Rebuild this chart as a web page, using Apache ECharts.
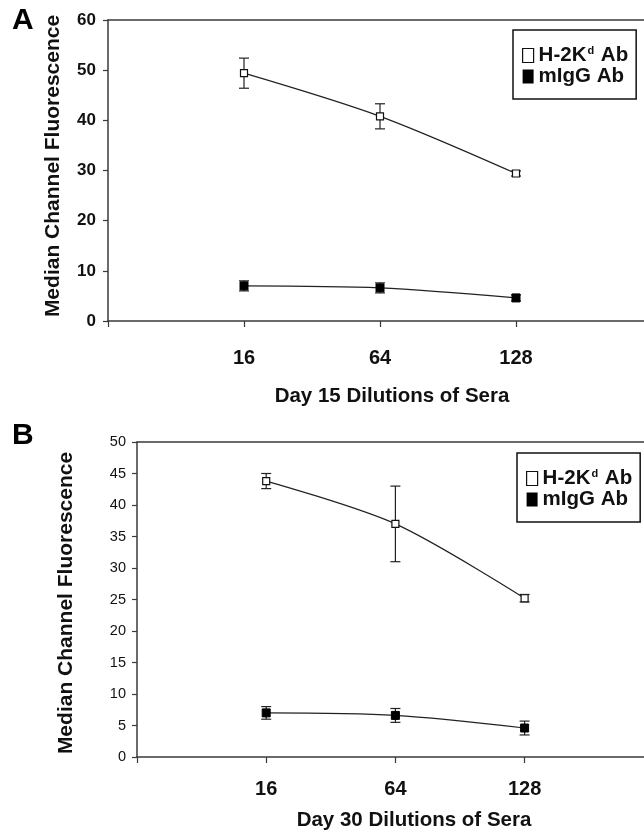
<!DOCTYPE html>
<html>
<head>
<meta charset="utf-8">
<script src="https://cdn.jsdelivr.net/npm/echarts@6/dist/echarts.min.js"></script>
<style>
  html, body { margin: 0; padding: 0; background: #fff; }
  #chart { width: 644px; height: 834px; }
</style>
</head>
<body>
<div id="chart"></div>
<script>
// dilutions on the x axis (both panels)
var dilutions = ['16', '64', '128'];

// panel A, day 15
var dayA_h2kd = [49.4, 40.8, 29.4];
var errA_h2kd = [3.0, 2.5, 0.5];
var dayA_migg = [7.0, 6.6, 4.6];
var errA_migg = [1.0, 1.0, 0.6];

// panel B, day 30
var dayB_h2kd = [43.8, 37.0, 25.2];
var errB_h2kd = [1.2, 6.0, 0.6];
var dayB_migg = [7.0, 6.6, 4.6];
var errB_migg = [1.0, 1.1, 1.1];

// y axis ticks
var yTicksA = { min: 0, max: 60, interval: 10 };
var yTicksB = { min: 0, max: 50, interval: 5 };

var FONT = '"Liberation Sans", Arial, sans-serif';
var AXIS = '#3a3a3a';

// dilution i sits at x = i + 1; the axis runs on past the last one (cut by the picture edge)
var xTickPos = [0].concat(dilutions.map(function (d, i) { return i + 1; }));

function points(vals) {
    return vals.map(function (v, i) { return [i + 1, v]; });
}
function errs(vals, e) {
    return vals.map(function (v, i) { return [i + 1, v - e[i], v + e[i]]; });
}

function errorBars(idx, data) {
    return {
        type: 'custom',
        xAxisIndex: idx * 2,
        yAxisIndex: idx,
        z: 1,
        silent: true,
        data: data,
        encode: { x: 0, y: [1, 2] },
        renderItem: function (params, api) {
            var lo = api.coord([api.value(0), api.value(1)]);
            var hi = api.coord([api.value(0), api.value(2)]);
            var w = 5;
            var st = { stroke: '#222', lineWidth: 1.2 };
            return {
                type: 'group',
                children: [
                    { type: 'line', shape: { x1: lo[0], y1: lo[1], x2: hi[0], y2: hi[1] }, style: st },
                    { type: 'line', shape: { x1: lo[0] - w, y1: lo[1], x2: lo[0] + w, y2: lo[1] }, style: st },
                    { type: 'line', shape: { x1: hi[0] - w, y1: hi[1], x2: hi[0] + w, y2: hi[1] }, style: st }
                ]
            };
        }
    };
}

function lineSeries(idx, name, vals, filled) {
    return {
        name: name,
        type: 'line',
        xAxisIndex: idx * 2,
        yAxisIndex: idx,
        smooth: 0.3,
        symbol: 'rect',
        symbolSize: filled ? 8 : 7,
        z: 3,
        lineStyle: { color: '#222', width: 1.2 },
        itemStyle: filled ? { color: '#000', borderColor: '#000', borderWidth: 1 }
                          : { color: '#fff', borderColor: '#111', borderWidth: 1.2 },
        data: points(vals)
    };
}

function xAxisFor(idx, max, labelSize, margin) {
    return {
        type: 'value',
        gridIndex: idx,
        min: 0,
        max: max,
        interval: 1,
        axisLine: { show: true, onZero: false, lineStyle: { color: AXIS, width: 1.5 } },
        axisTick: { show: true, length: 6, customValues: xTickPos, lineStyle: { color: AXIS, width: 1.2 } },
        axisLabel: {
            color: '#111', fontFamily: FONT, fontWeight: 'bold', fontSize: labelSize, margin: margin,
            customValues: xTickPos,
            formatter: function (v) { return dilutions[v - 1] || ''; }
        },
        splitLine: { show: false }
    };
}

// plain line along the top of the plot
function topAxisFor(idx, max) {
    return {
        type: 'value',
        gridIndex: idx,
        position: 'top',
        min: 0,
        max: max,
        axisLine: { show: true, onZero: false, lineStyle: { color: AXIS, width: 1.5 } },
        axisTick: { show: false },
        axisLabel: { show: false },
        splitLine: { show: false }
    };
}

function yAxisFor(idx, t, labelSize, bold, margin) {
    return {
        type: 'value',
        gridIndex: idx,
        min: t.min,
        max: t.max,
        interval: t.interval,
        axisLine: { show: true, lineStyle: { color: AXIS, width: 1.5 } },
        axisTick: { show: true, length: 5, lineStyle: { color: AXIS, width: 1.2 } },
        axisLabel: { color: '#111', fontFamily: FONT, fontWeight: bold ? 'bold' : 'normal', fontSize: labelSize, margin: margin },
        splitLine: { show: false }
    };
}

function legendFor(left, top) {
    return {
        orient: 'vertical',
        left: left,
        top: top,
        padding: [15, 8, 12, 9],
        itemGap: 0,
        itemWidth: 11,
        itemHeight: 14,
        borderColor: '#111',
        borderWidth: 1.5,
        selectedMode: false,
        data: [
            { name: 'H-2Kd Ab', icon: 'rect', itemStyle: { color: '#fff', borderColor: '#111', borderWidth: 1.2 } },
            { name: 'mIgG Ab', icon: 'rect', itemStyle: { color: '#000', borderWidth: 0 } }
        ],
        formatter: function (name) {
            if (name === 'H-2Kd Ab') return '{a|H-2K}{s|d}{a| Ab}';
            return '{a|' + name + '}';
        },
        textStyle: {
            lineHeight: 18,
            rich: {
                a: { fontFamily: FONT, fontWeight: 'bold', fontSize: 20.5, lineHeight: 18, color: '#111' },
                s: { fontFamily: FONT, fontWeight: 'bold', fontSize: 11, lineHeight: 18, color: '#111', padding: [0, 1, 9, 1] }
            }
        }
    };
}

var chart = echarts.init(document.getElementById('chart'));

var maxA = 536 / 136;
var maxB = 507 / 129.2;

var option = {
    backgroundColor: '#fff',
    animation: false,
    grid: [
        { left: 108, top: 20, right: 0, height: 301 },
        { left: 137, top: 442, right: 0, height: 315 }
    ],
    xAxis: [
        xAxisFor(0, maxA, 20, 27), topAxisFor(0, maxA),
        xAxisFor(1, maxB, 20, 22), topAxisFor(1, maxB)
    ],
    yAxis: [yAxisFor(0, yTicksA, 17, true, 12), yAxisFor(1, yTicksB, 14.5, false, 11)],
    legend: [legendFor(513, 30), legendFor(517, 453)],
    series: [
        errorBars(0, errs(dayA_h2kd, errA_h2kd)),
        errorBars(0, errs(dayA_migg, errA_migg)),
        lineSeries(0, 'H-2Kd Ab', dayA_h2kd, false),
        lineSeries(0, 'mIgG Ab', dayA_migg, true),
        errorBars(1, errs(dayB_h2kd, errB_h2kd)),
        errorBars(1, errs(dayB_migg, errB_migg)),
        lineSeries(1, 'H-2Kd Ab', dayB_h2kd, false),
        lineSeries(1, 'mIgG Ab', dayB_migg, true)
    ],
    graphic: [
        { type: 'text', left: 12, top: 6, style: { text: 'A', font: 'bold 30px ' + FONT, fill: '#000' } },
        { type: 'text', left: 12, top: 421, style: { text: 'B', font: 'bold 30px ' + FONT, fill: '#000' } },
        { type: 'text', x: 53, y: 166, rotation: Math.PI / 2,
          style: { text: 'Median Channel Fluorescence', font: 'bold 21px ' + FONT, fill: '#111', align: 'center', verticalAlign: 'middle' } },
        { type: 'text', x: 66, y: 603, rotation: Math.PI / 2,
          style: { text: 'Median Channel Fluorescence', font: 'bold 21px ' + FONT, fill: '#111', align: 'center', verticalAlign: 'middle' } },
        { type: 'text', x: 392, y: 396,
          style: { text: 'Day 15 Dilutions of Sera', font: 'bold 20.5px ' + FONT, fill: '#111', align: 'center', verticalAlign: 'middle' } },
        { type: 'text', x: 414, y: 820,
          style: { text: 'Day 30 Dilutions of Sera', font: 'bold 20.5px ' + FONT, fill: '#111', align: 'center', verticalAlign: 'middle' } }
    ]
};

chart.setOption(option);
</script>
</body>
</html>
